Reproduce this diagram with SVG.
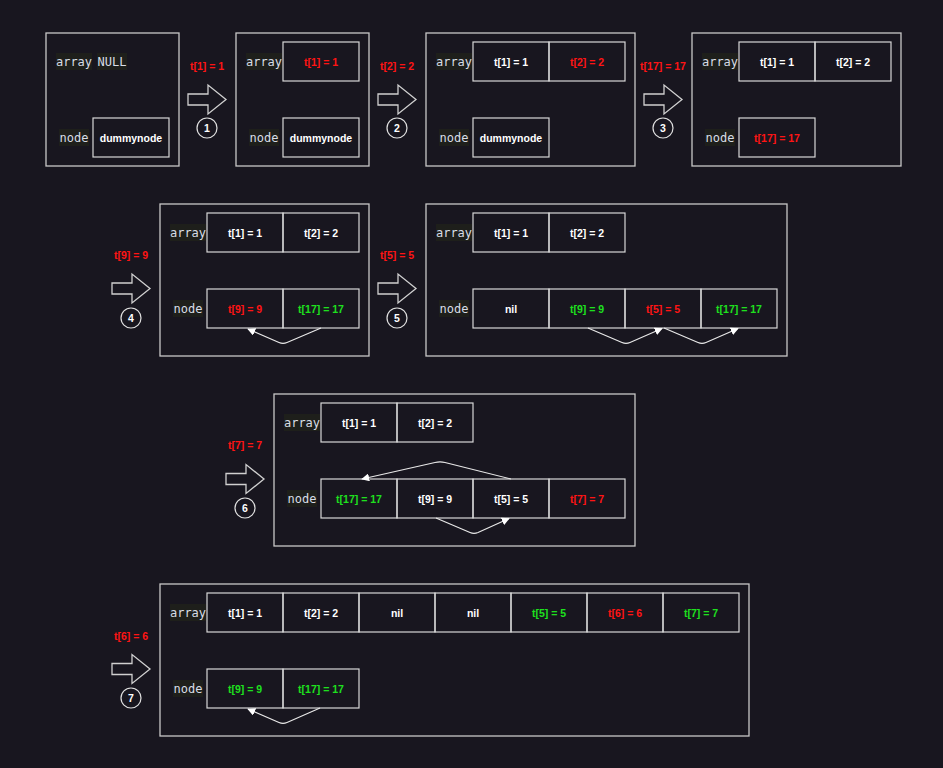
<svg xmlns="http://www.w3.org/2000/svg" xmlns:xlink="http://www.w3.org/1999/xlink" width="943" height="768" viewBox="0 0 943 768">
<defs>
<style>
.panel{fill:none;stroke:#c8c8c8;stroke-width:1.3}
.cell{fill:none;stroke:#d8d8d8;stroke-width:1.2}
.t{font-family:"Liberation Sans",Arial,sans-serif;font-size:10.5px;font-weight:bold;text-anchor:middle}
.w{fill:#ffffff}.r{fill:#ff1414}.g{fill:#1ee01e}
.lb{fill:#1e1f1b}
.m{font-family:"DejaVu Sans Mono",monospace;font-size:12px;fill:#d8dde6;text-anchor:middle}
.barrow{fill:none;stroke:#d0d0d0;stroke-width:1.3}
.num{fill:none;stroke:#e0e0e0;stroke-width:1.2}
.conn{fill:none;stroke:#e8e8e8;stroke-width:1.2}
</style>
<path id="ba" d="M0,-5.5 H20 V-14.5 L38,0 L20,14.5 V5.5 H0 Z"/>
<marker id="ah" viewBox="0 0 10 10" refX="9" refY="5" markerWidth="8" markerHeight="8" markerUnits="userSpaceOnUse" orient="auto">
<path d="M0,0 L10,5 L0,10 Z" fill="#ffffff"/>
</marker>
</defs>
<rect width="943" height="768" fill="#18161f"/>

<!-- step arrows -->
<g id="step1">
<text class="t r" x="207" y="70">t[1] = 1</text>
<use href="#ba" class="barrow" transform="translate(188,99.5)"/>
<circle class="num" cx="207" cy="128" r="10"/><text class="t w" x="207" y="132">1</text>
</g>
<g id="step2">
<text class="t r" x="397" y="70">t[2] = 2</text>
<use href="#ba" class="barrow" transform="translate(378,99.5)"/>
<circle class="num" cx="397" cy="128" r="10"/><text class="t w" x="397" y="132">2</text>
</g>
<g id="step3">
<text class="t r" x="663" y="70">t[17] = 17</text>
<use href="#ba" class="barrow" transform="translate(644,99.5)"/>
<circle class="num" cx="663" cy="128" r="10"/><text class="t w" x="663" y="132">3</text>
</g>
<g id="step4">
<text class="t r" x="131" y="259">t[9] = 9</text>
<use href="#ba" class="barrow" transform="translate(112,288.5)"/>
<circle class="num" cx="131" cy="318" r="10"/><text class="t w" x="131" y="322">4</text>
</g>
<g id="step5">
<text class="t r" x="397" y="259">t[5] = 5</text>
<use href="#ba" class="barrow" transform="translate(378,288.5)"/>
<circle class="num" cx="397" cy="318" r="10"/><text class="t w" x="397" y="322">5</text>
</g>
<g id="step6">
<text class="t r" x="245" y="449">t[7] = 7</text>
<use href="#ba" class="barrow" transform="translate(226,479)"/>
<circle class="num" cx="245" cy="508" r="10"/><text class="t w" x="245" y="512">6</text>
</g>
<g id="step7">
<text class="t r" x="131" y="640">t[6] = 6</text>
<use href="#ba" class="barrow" transform="translate(112,669)"/>
<circle class="num" cx="131" cy="698" r="10"/><text class="t w" x="131" y="702">7</text>
</g>

<!-- panel 1 -->
<g id="panel1">
<rect class="panel" x="46" y="33" width="133" height="133"/>
<rect class="lb" x="56" y="53" width="36" height="17"/><text class="m" x="74" y="65.5">array</text>
<rect class="lb" x="97" y="53" width="30" height="17"/><text class="m" x="112" y="65.5">NULL</text>
<rect class="lb" x="59" y="129" width="30" height="17"/><text class="m" x="74" y="141.5">node</text>
<rect class="cell" x="93" y="118" width="76" height="39"/><text class="t w" x="131" y="141.5">dummynode</text>
</g>

<!-- panel 2 -->
<g id="panel2">
<rect class="panel" x="236" y="33" width="133" height="133"/>
<rect class="lb" x="246" y="53" width="36" height="17"/><text class="m" x="264" y="65.5">array</text>
<rect class="cell" x="283" y="42" width="76" height="39"/><text class="t r" x="321" y="65.5">t[1] = 1</text>
<rect class="lb" x="249" y="129" width="30" height="17"/><text class="m" x="264" y="141.5">node</text>
<rect class="cell" x="283" y="118" width="76" height="39"/><text class="t w" x="321" y="141.5">dummynode</text>
</g>

<!-- panel 3 -->
<g id="panel3">
<rect class="panel" x="426" y="33" width="209" height="133"/>
<rect class="lb" x="436" y="53" width="36" height="17"/><text class="m" x="454" y="65.5">array</text>
<rect class="cell" x="473" y="42" width="76" height="39"/><text class="t w" x="511" y="65.5">t[1] = 1</text>
<rect class="cell" x="549" y="42" width="76" height="39"/><text class="t r" x="587" y="65.5">t[2] = 2</text>
<rect class="lb" x="439" y="129" width="30" height="17"/><text class="m" x="454" y="141.5">node</text>
<rect class="cell" x="473" y="118" width="76" height="39"/><text class="t w" x="511" y="141.5">dummynode</text>
</g>

<!-- panel 4 -->
<g id="panel4">
<rect class="panel" x="692" y="33" width="209" height="133"/>
<rect class="lb" x="702" y="53" width="36" height="17"/><text class="m" x="720" y="65.5">array</text>
<rect class="cell" x="739" y="42" width="76" height="39"/><text class="t w" x="777" y="65.5">t[1] = 1</text>
<rect class="cell" x="815" y="42" width="76" height="39"/><text class="t w" x="853" y="65.5">t[2] = 2</text>
<rect class="lb" x="705" y="129" width="30" height="17"/><text class="m" x="720" y="141.5">node</text>
<rect class="cell" x="739" y="118" width="76" height="39"/><text class="t r" x="777" y="141.5">t[17] = 17</text>
</g>

<!-- panel 5 -->
<g id="panel5">
<rect class="panel" x="160" y="204" width="209" height="152"/>
<rect class="lb" x="170" y="224" width="36" height="17"/><text class="m" x="188" y="236.5">array</text>
<rect class="cell" x="207" y="213" width="76" height="39"/><text class="t w" x="245" y="236.5">t[1] = 1</text>
<rect class="cell" x="283" y="213" width="76" height="39"/><text class="t w" x="321" y="236.5">t[2] = 2</text>
<rect class="lb" x="173" y="300" width="30" height="17"/><text class="m" x="188" y="312.5">node</text>
<rect class="cell" x="207" y="289" width="76" height="39"/><text class="t r" x="245" y="312.5">t[9] = 9</text>
<rect class="cell" x="283" y="289" width="76" height="39"/><text class="t g" x="321" y="312.5">t[17] = 17</text>
</g>

<!-- panel 6 -->
<g id="panel6">
<rect class="panel" x="426" y="204" width="361" height="152"/>
<rect class="lb" x="436" y="224" width="36" height="17"/><text class="m" x="454" y="236.5">array</text>
<rect class="cell" x="473" y="213" width="76" height="39"/><text class="t w" x="511" y="236.5">t[1] = 1</text>
<rect class="cell" x="549" y="213" width="76" height="39"/><text class="t w" x="587" y="236.5">t[2] = 2</text>
<rect class="lb" x="439" y="300" width="30" height="17"/><text class="m" x="454" y="312.5">node</text>
<rect class="cell" x="473" y="289" width="76" height="39"/><text class="t w" x="511" y="312.5">nil</text>
<rect class="cell" x="549" y="289" width="76" height="39"/><text class="t g" x="587" y="312.5">t[9] = 9</text>
<rect class="cell" x="625" y="289" width="76" height="39"/><text class="t r" x="663" y="312.5">t[5] = 5</text>
<rect class="cell" x="701" y="289" width="76" height="39"/><text class="t g" x="739" y="312.5">t[17] = 17</text>
</g>

<!-- panel 7 -->
<g id="panel7">
<rect class="panel" x="274" y="394" width="361" height="152"/>
<rect class="lb" x="284" y="414" width="36" height="17"/><text class="m" x="302" y="426.5">array</text>
<rect class="cell" x="321" y="403" width="76" height="39"/><text class="t w" x="359" y="426.5">t[1] = 1</text>
<rect class="cell" x="397" y="403" width="76" height="39"/><text class="t w" x="435" y="426.5">t[2] = 2</text>
<rect class="lb" x="287" y="490" width="30" height="17"/><text class="m" x="302" y="502.5">node</text>
<rect class="cell" x="321" y="479" width="76" height="39"/><text class="t g" x="359" y="502.5">t[17] = 17</text>
<rect class="cell" x="397" y="479" width="76" height="39"/><text class="t w" x="435" y="502.5">t[9] = 9</text>
<rect class="cell" x="473" y="479" width="76" height="39"/><text class="t w" x="511" y="502.5">t[5] = 5</text>
<rect class="cell" x="549" y="479" width="76" height="39"/><text class="t r" x="587" y="502.5">t[7] = 7</text>
</g>

<!-- panel 8 -->
<g id="panel8">
<rect class="panel" x="160" y="584" width="589" height="152"/>
<rect class="lb" x="170" y="604" width="36" height="17"/><text class="m" x="188" y="616.5">array</text>
<rect class="cell" x="207" y="593" width="76" height="39"/><text class="t w" x="245" y="616.5">t[1] = 1</text>
<rect class="cell" x="283" y="593" width="76" height="39"/><text class="t w" x="321" y="616.5">t[2] = 2</text>
<rect class="cell" x="359" y="593" width="76" height="39"/><text class="t w" x="397" y="616.5">nil</text>
<rect class="cell" x="435" y="593" width="76" height="39"/><text class="t w" x="473" y="616.5">nil</text>
<rect class="cell" x="511" y="593" width="76" height="39"/><text class="t g" x="549" y="616.5">t[5] = 5</text>
<rect class="cell" x="587" y="593" width="76" height="39"/><text class="t r" x="625" y="616.5">t[6] = 6</text>
<rect class="cell" x="663" y="593" width="76" height="39"/><text class="t g" x="701" y="616.5">t[7] = 7</text>
<rect class="lb" x="173" y="680" width="30" height="17"/><text class="m" x="188" y="692.5">node</text>
<rect class="cell" x="207" y="669" width="76" height="39"/><text class="t g" x="245" y="692.5">t[9] = 9</text>
<rect class="cell" x="283" y="669" width="76" height="39"/><text class="t g" x="321" y="692.5">t[17] = 17</text>
</g>

<!-- connectors -->
<g id="connectors">
<path class="conn" marker-end="url(#ah)" d="M321,328 L287,342.5 Q283,344.2 279,342.5 L248,329"/>
<path class="conn" marker-end="url(#ah)" d="M588,328 L622,342.5 Q626,344.2 630,342.5 L662,328.5"/>
<path class="conn" marker-end="url(#ah)" d="M664,328 L698,342.5 Q702,344.2 706,342.5 L738,328.5"/>
<path class="conn" marker-end="url(#ah)" d="M511,479 L445,462.5 Q440,461.3 435,462.5 L362,479"/>
<path class="conn" marker-end="url(#ah)" d="M436,518 L470,532.5 Q474,534.2 478,532.5 L509,518.5"/>
<path class="conn" marker-end="url(#ah)" d="M320,708 L287,722.5 Q283,724.2 279,722.5 L248,709"/>
</g>
</svg>
